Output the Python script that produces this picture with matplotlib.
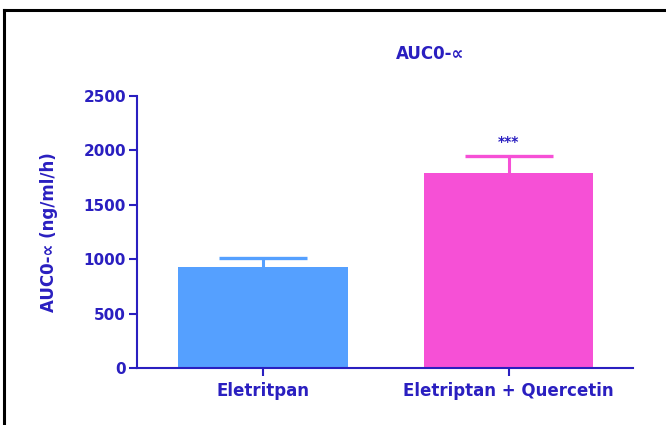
import matplotlib
matplotlib.use('Agg')
import matplotlib.pyplot as plt
from matplotlib.lines import Line2D

groups = ['Eletritpan', 'Eletriptan + Quercetin']
means = [928, 1792]
sem_up = [83, 157]
bar_colors = ['#55A0FF', '#F650D6']
yticks = [0, 500, 1000, 1500, 2000, 2500]
signif = '***'

ink = '#2A1FC0'
plt.rcParams['font.family'] = ['DejaVu Sans']
plt.rcParams['font.weight'] = 'bold'

fig = plt.figure(figsize=(6.66, 4.25), dpi=100)
ax = fig.add_axes([137 / 666, 57 / 425, 496 / 666, 272 / 425])

x = range(len(groups))
for xi, m, e, c in zip(x, means, sem_up, bar_colors):
    ax.bar(xi, m, width=0.692, color=c, zorder=2)
    _, caps, _ = ax.errorbar(xi, m, yerr=[[0], [e]], color=c, elinewidth=2.2,
                             capsize=31.5, capthick=2.4, zorder=1)
    caps[0].set_visible(False)  # only the upper whisker is shown

ax.text(1, means[1] + sem_up[1] + 130, signif, ha='center', va='center',
        color=ink, fontsize=10, fontweight='bold')

ax.set_xlim(-0.513, 1.507)
ax.set_ylim(0, 2500)
ax.set_yticks(yticks)
ax.set_xticks(list(x))
ax.set_xticklabels(groups, fontsize=12, color=ink, fontweight='bold')
ax.tick_params(axis='y', labelsize=11, colors=ink, length=6, width=1.5, pad=2)
ax.tick_params(axis='x', colors=ink, length=6, width=1.5, pad=4)
for s in ['top', 'right']:
    ax.spines[s].set_visible(False)
for s in ['left', 'bottom']:
    ax.spines[s].set_color(ink)
    ax.spines[s].set_linewidth(1.5)

ax.set_ylabel('AUC0-\u221d (ng/ml/h)', color=ink, fontsize=12,
              fontweight='bold', labelpad=18)
ax.set_title('AUC0-\u221d', color=ink, fontsize=12, fontweight='bold',
             pad=30, x=0.59, va='center')

# frame at the figure's left and top
fig.add_artist(Line2D([4 / 666, 4 / 666], [0, 1 - 10 / 425], transform=fig.transFigure,
                      color='black', lw=2.2))
fig.add_artist(Line2D([4 / 666, 1], [1 - 10 / 425, 1 - 10 / 425], transform=fig.transFigure,
                      color='black', lw=2.2))

fig.savefig('out.png', dpi=100)
